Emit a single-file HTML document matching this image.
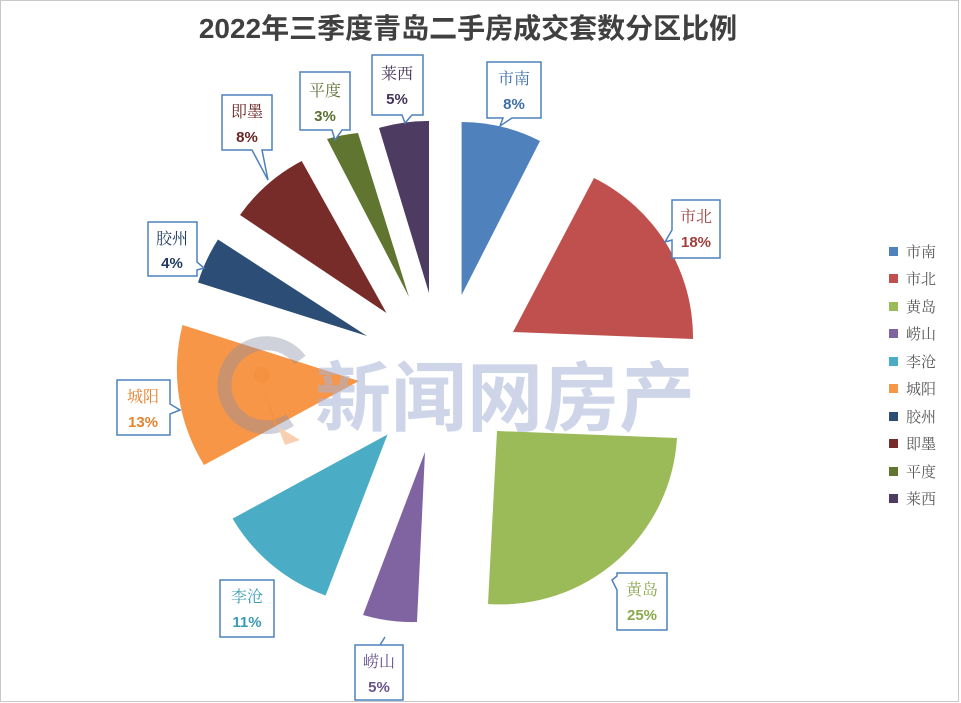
<!DOCTYPE html>
<html><head><meta charset="utf-8"><style>
body{margin:0;background:#fff}
svg{display:block}
.t{font-family:"Liberation Serif","Noto Serif CJK SC",serif;font-size:16px;text-anchor:middle}
.p{font-family:"Liberation Sans","Noto Sans CJK SC",sans-serif;font-size:15px;font-weight:bold;text-anchor:middle}
.lg{font-family:"Liberation Serif","Noto Serif CJK SC",serif;font-size:15px;fill:#595959}
</style></head><body>
<svg width="961" height="703" viewBox="0 0 961 703" xmlns="http://www.w3.org/2000/svg">
<rect x="0.5" y="0.5" width="958" height="701" fill="#fff" stroke="#c8c8c8"/>
<text x="468" y="38" font-family="Liberation Sans,Noto Sans CJK SC,sans-serif" font-size="28" font-weight="bold" fill="#404040" text-anchor="middle">2022年三季度青岛二手房成交套数分区比例</text>
<g>
<path d="M461.6 295 L461.6 122 A173 173 0 0 1 540 141 Z" fill="#4f81bd"/>
<path d="M513 332 L594 178 A178 178 0 0 1 693 339 Z" fill="#c0504d"/>
<path d="M497 431 L677 438 A177 177 0 0 1 488 604 Z" fill="#9bbb59"/>
<path d="M425 452 L417 622 A174 174 0 0 1 363 615 Z" fill="#8064a2"/>
<path d="M387.5 434.5 L325.6 595.5 A176 176 0 0 1 232.6 518.6 Z" fill="#4bacc6"/>
<path d="M359 381 L204 465 A181 181 0 0 1 182.5 325 Z" fill="#f79646"/>
<path d="M367 336 L198 282.5 A178 178 0 0 1 218 239.5 Z" fill="#2c4d75"/>
<path d="M386.5 313 L240 215 A176 176 0 0 1 301.7 161 Z" fill="#772c2a"/>
<path d="M409 297 L327 139 A178 178 0 0 1 358 133 Z" fill="#5f7530"/>
<path d="M429 293 L379 128 A172 172 0 0 1 429 121 Z" fill="#4d3b62"/>
</g>
<g opacity="0.4">
<path d="M300 360 A42 42 0 1 0 290 420" fill="none" stroke="#8a8fa8" stroke-width="14"/>
<circle cx="262" cy="375" r="8" fill="#f08a3c"/>
<path d="M262 385 L275 425 L300 440 L285 445 Z" fill="#f08a3c"/>
</g>
<text x="505" y="425" font-family="Noto Sans CJK SC,sans-serif" font-size="76" font-weight="bold" fill="#a9b3d6" opacity="0.55" text-anchor="middle">新闻网房产</text>
<g fill="#fff" stroke="#4f81bd" stroke-width="1.5">
<path d="M487 62 H541 V118 H512 L500 126 L503 118 H487 Z"/>
<path d="M672 200 H720 V258 H672 V240 L665 242 L672 230 Z"/>
<path d="M617 573 H667 V630 H617 V590 L612 580 L617 576 Z"/>
<path d="M355 645 H403 V700 H355 Z M380 645 L385 637"/>
<path d="M220 580 H274 V637 H220 Z"/>
<path d="M117 380 H170 V404 L180 410 L170 414 V435 H117 Z"/>
<path d="M148 222 H197 V262 L204 268 L197 270 V276 H148 Z"/>
<path d="M222 95 H272 V150 H262 L268 180 L252 150 H222 Z"/>
<path d="M300 72 H350 V130 H342 L335 140 L332 130 H300 Z"/>
<path d="M372 55 H423 V115 H412 L405 123 L402 115 H372 Z"/>
</g>
<text class="t" x="514" y="84" fill="#3d6fa8">市南</text><text class="p" x="514" y="109" fill="#3d6fa8">8%</text>
<text class="t" x="696" y="222" fill="#a13f3c">市北</text><text class="p" x="696" y="247" fill="#a13f3c">18%</text>
<text class="t" x="642" y="595" fill="#8aa84c">黄岛</text><text class="p" x="642" y="620" fill="#8aa84c">25%</text>
<text class="t" x="379" y="667" fill="#6b5490">崂山</text><text class="p" x="379" y="692" fill="#6b5490">5%</text>
<text class="t" x="247" y="602" fill="#3a9bb5">李沧</text><text class="p" x="247" y="627" fill="#3a9bb5">11%</text>
<text class="t" x="143" y="402" fill="#e5832f">城阳</text><text class="p" x="143" y="427" fill="#e5832f">13%</text>
<text class="t" x="172" y="244" fill="#1f3b5f">胶州</text><text class="p" x="172" y="268" fill="#1f3b5f">4%</text>
<text class="t" x="247" y="117" fill="#6b2523">即墨</text><text class="p" x="247" y="142" fill="#6b2523">8%</text>
<text class="t" x="325" y="96" fill="#5a6e2d">平度</text><text class="p" x="325" y="121" fill="#5a6e2d">3%</text>
<text class="t" x="397" y="79" fill="#42335a">莱西</text><text class="p" x="397" y="104" fill="#42335a">5%</text>
<g>
<rect x="889" y="247" width="9" height="9" fill="#4f81bd"/><text class="lg" x="906" y="257">市南</text>
<rect x="889" y="274" width="9" height="9" fill="#c0504d"/><text class="lg" x="906" y="284">市北</text>
<rect x="889" y="302" width="9" height="9" fill="#9bbb59"/><text class="lg" x="906" y="312">黄岛</text>
<rect x="889" y="329" width="9" height="9" fill="#8064a2"/><text class="lg" x="906" y="339">崂山</text>
<rect x="889" y="357" width="9" height="9" fill="#4bacc6"/><text class="lg" x="906" y="367">李沧</text>
<rect x="889" y="384" width="9" height="9" fill="#f79646"/><text class="lg" x="906" y="394">城阳</text>
<rect x="889" y="412" width="9" height="9" fill="#2c4d75"/><text class="lg" x="906" y="422">胶州</text>
<rect x="889" y="439" width="9" height="9" fill="#772c2a"/><text class="lg" x="906" y="449">即墨</text>
<rect x="889" y="467" width="9" height="9" fill="#5f7530"/><text class="lg" x="906" y="477">平度</text>
<rect x="889" y="494" width="9" height="9" fill="#4d3b62"/><text class="lg" x="906" y="504">莱西</text>
</g>
</svg>
</body></html>
